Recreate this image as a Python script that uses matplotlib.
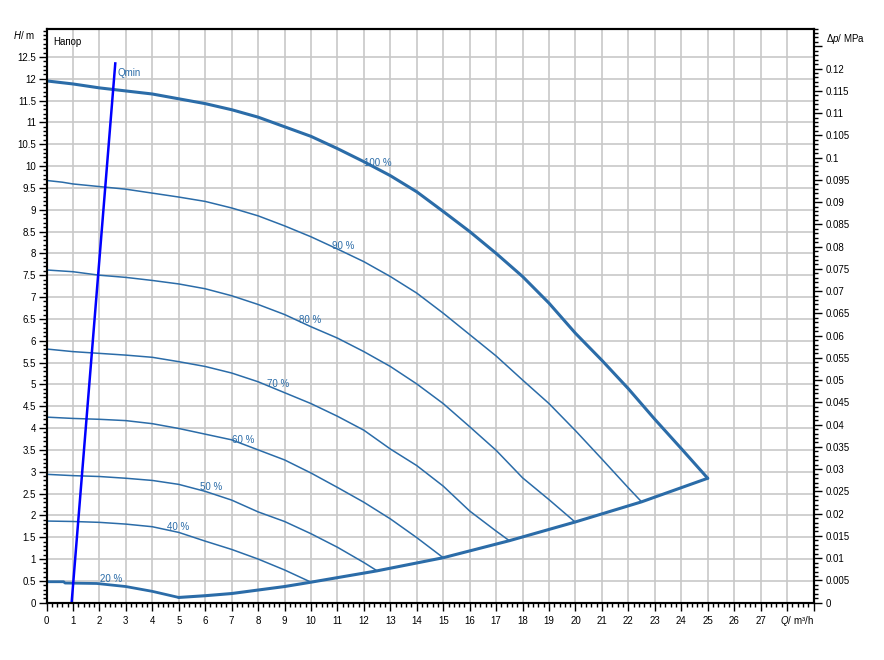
import matplotlib
matplotlib.use("Agg")
import matplotlib.pyplot as plt
from matplotlib.ticker import MultipleLocator, FixedLocator, FuncFormatter

plt.rcParams['font.family'] = ['Liberation Sans', 'DejaVu Sans']
plt.rcParams['font.size'] = 7
plt.rcParams['mathtext.fontset'] = 'custom'
plt.rcParams['mathtext.it'] = 'Liberation Sans:italic'
plt.rcParams['mathtext.rm'] = 'Liberation Sans'

# pump curves, Q in m3/h, H in m
q100 = [0, 1, 2, 3, 4, 5, 6, 7, 8, 9, 10, 11, 12, 13, 14, 15, 16, 17, 18, 19, 20, 21, 22, 23, 24, 25]
h100 = [11.95, 11.88, 11.79, 11.72, 11.65, 11.54, 11.43, 11.29, 11.12, 10.9, 10.68, 10.4, 10.1, 9.78,
        9.41, 8.96, 8.5, 8.0, 7.47, 6.86, 6.17, 5.55, 4.9, 4.2, 3.53, 2.85]
q90 = [0, 0.6, 1, 2, 3, 4, 5, 6, 7, 8, 9, 10, 11, 12, 13, 14, 15, 16, 17, 18, 19, 20, 21, 22, 22.5]
h90 = [9.67, 9.63, 9.59, 9.53, 9.47, 9.38, 9.29, 9.19, 9.04, 8.86, 8.63, 8.38, 8.1, 7.81, 7.47, 7.09,
       6.63, 6.14, 5.65, 5.1, 4.56, 3.94, 3.29, 2.63, 2.31]
q80 = [0, 1, 2, 3, 4, 5, 6, 7, 8, 9, 10, 11, 12, 13, 14, 15, 16, 17, 18, 19, 20]
h80 = [7.62, 7.58, 7.5, 7.45, 7.38, 7.3, 7.19, 7.03, 6.83, 6.6, 6.32, 6.06, 5.75, 5.41, 5.01, 4.56,
       4.03, 3.49, 2.86, 2.36, 1.84]
q70 = [0, 1, 2, 3, 4, 5, 6, 7, 8, 9, 10, 11, 12, 13, 14, 15, 16, 17, 17.5]
h70 = [5.81, 5.75, 5.71, 5.67, 5.62, 5.52, 5.41, 5.26, 5.06, 4.81, 4.56, 4.27, 3.95, 3.52, 3.14,
       2.67, 2.1, 1.64, 1.42]
q60 = [0, 1, 2, 3, 4, 5, 6, 7, 8, 9, 10, 11, 12, 13, 14, 15]
h60 = [4.25, 4.22, 4.2, 4.17, 4.1, 3.99, 3.86, 3.73, 3.5, 3.27, 2.97, 2.64, 2.3, 1.92, 1.49, 1.03]
q50 = [0, 1, 2, 3, 4, 5, 6, 7, 8, 9, 10, 11, 12, 12.5]
h50 = [2.94, 2.91, 2.89, 2.85, 2.8, 2.71, 2.55, 2.35, 2.08, 1.86, 1.58, 1.27, 0.92, 0.73]
q40 = [0, 1, 2, 3, 4, 5, 6, 7, 8, 9, 10]
h40 = [1.87, 1.86, 1.84, 1.8, 1.74, 1.61, 1.41, 1.22, 1.0, 0.75, 0.47]
q20 = [0, 0.65, 0.7, 1.9, 3.0, 4.0, 5.0]
h20 = [0.48, 0.48, 0.45, 0.44, 0.37, 0.26, 0.12]
# end-of-curve line
q_end = [5, 6, 7, 8, 9, 10, 12.5, 15, 17.5, 20, 22.5, 25]
h_end = [0.12, 0.16, 0.21, 0.29, 0.37, 0.47, 0.73, 1.03, 1.42, 1.85, 2.31, 2.85]
# Qmin line
q_min = [0.95, 2.6]
h_min = [0, 12.35]

curve_names = ['100 %', '90 %', '80 %', '70 %', '60 %', '50 %', '40 %', '20 %']
label_xy = [(12.0, 10.07), (10.78, 8.17), (9.53, 6.48), (8.34, 5.01),
            (7.01, 3.73), (5.81, 2.64), (4.55, 1.74), (2.03, 0.54)]

x_ticklabels = [str(i) for i in range(28)]
y_ticklabels = ['0', '0.5'] + [f'{v / 2:g}' for v in range(2, 26)]

blue = '#2b6ca8'
m_to_mpa = 0.00981

fig = plt.figure(figsize=(8.84, 6.6), dpi=100)
ax = fig.add_axes([46.5 / 884, 1 - 602.7 / 660, 767 / 884, 574.2 / 660])
ax.set_xlim(0, 29)
ax.set_ylim(0, 13.15)

ax.set_xticks(range(30))
ax.set_xticklabels(x_ticklabels + ['', ''])
ax.xaxis.set_minor_locator(MultipleLocator(0.2))
ax.yaxis.set_major_locator(FixedLocator([i * 0.5 for i in range(26)]))
ax.set_yticklabels(y_ticklabels)
ax.yaxis.set_minor_locator(MultipleLocator(0.1))
ax.tick_params(which='major', direction='out', length=5.5, width=1, pad=2)
ax.tick_params(axis='x', which='major', pad=4)
ax.tick_params(which='minor', direction='out', length=3, width=1)
ax.grid(True, which='major', color='#c8c8c8', lw=1.2)
ax.set_axisbelow(True)
for s in ax.spines.values():
    s.set_linewidth(1.5)

thin = [(q90, h90), (q80, h80), (q70, h70), (q60, h60), (q50, h50), (q40, h40)]
for q, h in thin:
    ax.plot(q, h, color=blue, lw=1.1, solid_capstyle='round')
ax.plot(q100, h100, color=blue, lw=2.2, solid_capstyle='round')
ax.plot(q20, h20, color=blue, lw=2.0, solid_capstyle='round')
ax.plot(q_end, h_end, color=blue, lw=2.2, solid_capstyle='round', solid_joinstyle='round')
ax.plot(q_min, h_min, color='#0000ff', lw=1.8)

for name, (x, y) in zip(curve_names, label_xy):
    ax.text(x, y, name, color=blue, ha='left', va='center')
ax.text(2.7, 12.13, 'Qmin', color=blue, ha='left', va='center')
ax.text(0.24, 12.83, 'Напор', color='black', ha='left', va='center')

ax.annotate('$\\it{H}$/ m', xy=(0, 13.0), xycoords='data', xytext=(-8, 0),
            textcoords='offset points', ha='right', va='center')
ax.annotate('$\\it{Q}$/ m³/h', xy=(29, 0), xycoords='data', xytext=(0, -13),
            textcoords='offset points', ha='right', va='center')

ax2 = ax.twinx()
ax2.set_ylim(0, 13.15 * m_to_mpa)
ax2.yaxis.set_major_locator(MultipleLocator(0.005))
ax2.yaxis.set_minor_locator(MultipleLocator(0.001))
ax2.yaxis.set_major_formatter(FuncFormatter(lambda v, _: '' if v > 0.1201 else f'{round(v, 3):g}'))
ax2.tick_params(which='major', direction='out', length=5.5, width=1, pad=3)
ax2.tick_params(which='minor', direction='out', length=3, width=1)
for s in ax2.spines.values():
    s.set_linewidth(1.5)
ax2.annotate('Δ$\\it{p}$/ MPa', xy=(1, 12.92 * m_to_mpa), xycoords=('axes fraction', 'data'),
             xytext=(9, 0), textcoords='offset points', ha='left', va='center')

fig.savefig('out.png', dpi=100)
